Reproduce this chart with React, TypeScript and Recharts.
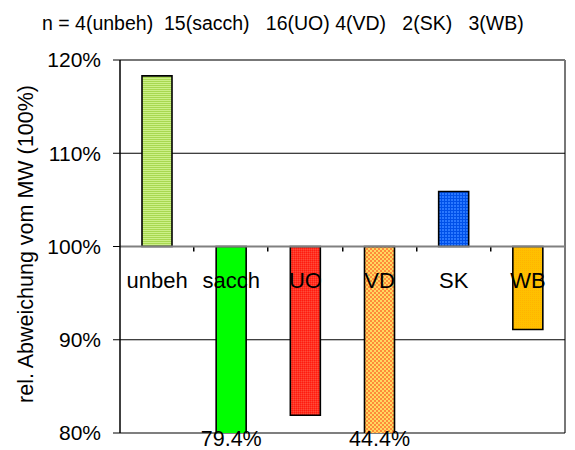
import React from 'react';
import { BarChart, Bar, XAxis, YAxis, CartesianGrid, Cell, ReferenceLine } from 'recharts';

const categories = ['unbeh', 'sacch', 'UO', 'VD', 'SK', 'WB'];
const values = [118.3, 79.4, 81.9, 44.4, 105.9, 91.1];
const nCounts = [4, 15, 16, 4, 2, 3];
const yTicks = [80, 90, 100, 110, 120];
const baseline = 100;
const yTitle = 'rel. Abweichung vom MW (100%)';
const headerGaps = ['  ', '   ', ' ', '   ', '   '];

const data = categories.map((c, i) => ({ name: c, range: [baseline, values[i]], value: values[i] }));
const header = 'n = ' + categories.map((c, i) => `${nCounts[i]}(${c})` + (i < headerGaps.length ? headerGaps[i] : '')).join('');

const FONT = 'Liberation Sans, Arial, sans-serif';
const Y_MIN = yTicks[0];
const Y_MAX = yTicks[yTicks.length - 1];
const CHART_W = 575;
const CHART_H = 450;
const MARGIN = { top: 60, right: 10, bottom: 0, left: 0 };
const YAXIS_W = 120;
const XAXIS_H = 17;
const PLOT_L = MARGIN.left + YAXIS_W;
const PLOT_R = CHART_W - MARGIN.right;
const PLOT_T = MARGIN.top;
const PLOT_B = CHART_H - MARGIN.bottom - XAXIS_H;
const PLOT_W = PLOT_R - PLOT_L;
const BAND = PLOT_W / categories.length;
const yOf = (v: number) => PLOT_T + ((Y_MAX - v) / (Y_MAX - Y_MIN)) * (PLOT_B - PLOT_T);

const CategoryTick = (props: any) => {
  const { x, y, payload, index } = props;
  const v = values[index];
  return (
    <g>
      <text x={x} y={y - 145} textAnchor="middle" fontFamily={FONT} fontSize={22} fill="#000">
        {payload.value}
      </text>
      {v < Y_MIN ? (
        <text x={x} y={y + 13} textAnchor="middle" fontFamily={FONT} fontSize={21.5} fill="#000">
          {`${v.toFixed(1)}%`}
        </text>
      ) : null}
    </g>
  );
};

export default function App() {
  const y100 = yOf(baseline);
  return (
    <div style={{ position: 'absolute', left: 0, top: 0, width: CHART_W, height: CHART_H, background: '#fff' }}>
      <svg width={0} height={0} style={{ position: 'absolute' }}>
        <defs>
          <pattern id="pat-0" width={4} height={2} patternUnits="userSpaceOnUse">
            <rect width={4} height={2} fill="#a8d850" />
            <rect width={4} height={1} fill="#ccf088" />
          </pattern>
          <pattern id="pat-1" width={4} height={4} patternUnits="userSpaceOnUse">
            <rect width={4} height={4} fill="#00ff00" />
          </pattern>
          <pattern id="pat-2" width={2} height={2} patternUnits="userSpaceOnUse">
            <rect width={2} height={2} fill="#ff3322" />
            <rect width={1} height={1} fill="#ff1a10" />
            <rect x={1} y={1} width={1} height={1} fill="#ff4a3a" />
          </pattern>
          <pattern id="pat-3" width={4} height={4} patternUnits="userSpaceOnUse">
            <rect width={4} height={4} fill="#ff8a3a" />
            <rect width={2} height={2} fill="#ffd860" />
            <rect x={2} y={2} width={2} height={2} fill="#ffd860" />
          </pattern>
          <pattern id="pat-4" width={3} height={3} patternUnits="userSpaceOnUse">
            <rect width={3} height={3} fill="#2a78ff" />
            <rect width={3} height={1} fill="#0050e8" />
            <rect width={1} height={3} fill="#0050e8" />
          </pattern>
          <pattern id="pat-5" width={2} height={2} patternUnits="userSpaceOnUse">
            <rect width={2} height={2} fill="#ffc000" />
            <rect width={1} height={1} fill="#ffb400" />
          </pattern>
        </defs>
      </svg>
      <svg width={CHART_W} height={CHART_H} style={{ position: 'absolute', left: 0, top: 0 }}>
        <text x={42} y={30} fontFamily={FONT} fontSize={19.5} fill="#000" style={{ whiteSpace: 'pre' }} xmlSpace="preserve">
          {header}
        </text>
        <text
          x={0}
          y={0}
          transform="translate(33,244) rotate(-90)"
          textAnchor="middle"
          fontFamily={FONT}
          fontSize={21.5}
          fill="#000"
        >
          {yTitle}
        </text>
        <rect x={PLOT_L} y={PLOT_T - 1} width={PLOT_W} height={2} fill="#777" />
        <rect x={PLOT_R - 1} y={PLOT_T} width={2} height={PLOT_B - PLOT_T} fill="#777" />
        {categories.slice(0, -1).map((c, i) => (
          <rect key={c} x={Math.round(PLOT_L + BAND * (i + 1)) - 1} y={y100} width={1.5} height={5} fill="#000" />
        ))}
      </svg>
      <div style={{ position: 'absolute', left: 0, top: 0 }}>
        <BarChart width={CHART_W} height={CHART_H} data={data} margin={MARGIN} barSize={30}>
          <CartesianGrid vertical={false} stroke="#000" strokeWidth={1.2} />
          <XAxis
            dataKey="name"
            axisLine={false}
            tickLine={false}
            tickSize={0}
            tickMargin={0}
            height={XAXIS_H}
            interval={0}
            tick={(p: any) => <CategoryTick {...p} />}
          />
          <YAxis
            type="number"
            domain={[Y_MIN, Y_MAX]}
            ticks={yTicks}
            allowDataOverflow
            width={YAXIS_W}
            tickSize={7}
            tickMargin={12}
            axisLine={{ stroke: '#000', strokeWidth: 1.5 }}
            tickLine={{ stroke: '#000', strokeWidth: 1 }}
            tickFormatter={(v: number) => `${v}%`}
            tick={{ fontFamily: FONT, fontSize: 21, fill: '#000' }}
          />
          <ReferenceLine y={Y_MAX} stroke="#777" strokeWidth={2} ifOverflow="visible" />
          <ReferenceLine y={baseline} stroke="#808080" strokeWidth={1.8} ifOverflow="visible" />
          <Bar dataKey="range" isAnimationActive={false} stroke="#000" strokeWidth={1.6}>
            {data.map((d, i) => (
              <Cell key={d.name} fill={`url(#pat-${i})`} />
            ))}
          </Bar>
        </BarChart>
      </div>
    </div>
  );
}
